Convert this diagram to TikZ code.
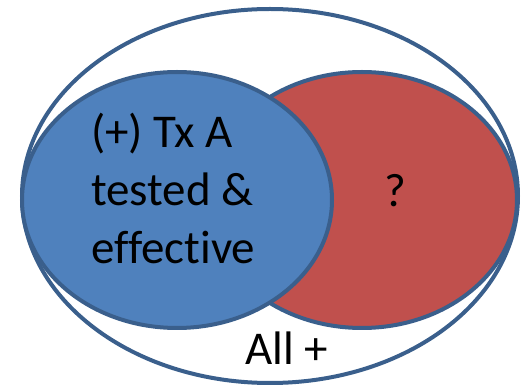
\documentclass[tikz,border=0pt]{standalone}
\usepackage{fontspec}
\setmainfont{Carlito}[Ligatures={NoCommon}]
\definecolor{edgeblue}{HTML}{3A5F8C}
\definecolor{fillblue}{HTML}{4F81BD}
\definecolor{fillred}{HTML}{C0504D}
\tikzset{
  setshape/.style={draw=edgeblue, line width=4pt},
  lbl/.style={font=\fontsize{47}{58}\selectfont, inner sep=0pt, text=black}
}
\begin{document}
\begin{tikzpicture}[x=1pt,y=-1pt]
\useasboundingbox (0,0) rectangle (531,390);
\draw[setshape] (270,196) ellipse [x radius=248, y radius=187];
\draw[setshape, fill=fillred] (362,200) ellipse [x radius=155, y radius=128];
\draw[setshape, fill=fillblue] (177,200) ellipse [x radius=155, y radius=128];
\node[lbl, align=left, anchor=base west] (txa) at (91,264) {(+) Tx A\\tested \&\\effective};
\node[lbl, anchor=base] (q) at (395,207) {?};
\node[lbl, anchor=base west] (all) at (245,365) {All +};
\end{tikzpicture}
\end{document}
